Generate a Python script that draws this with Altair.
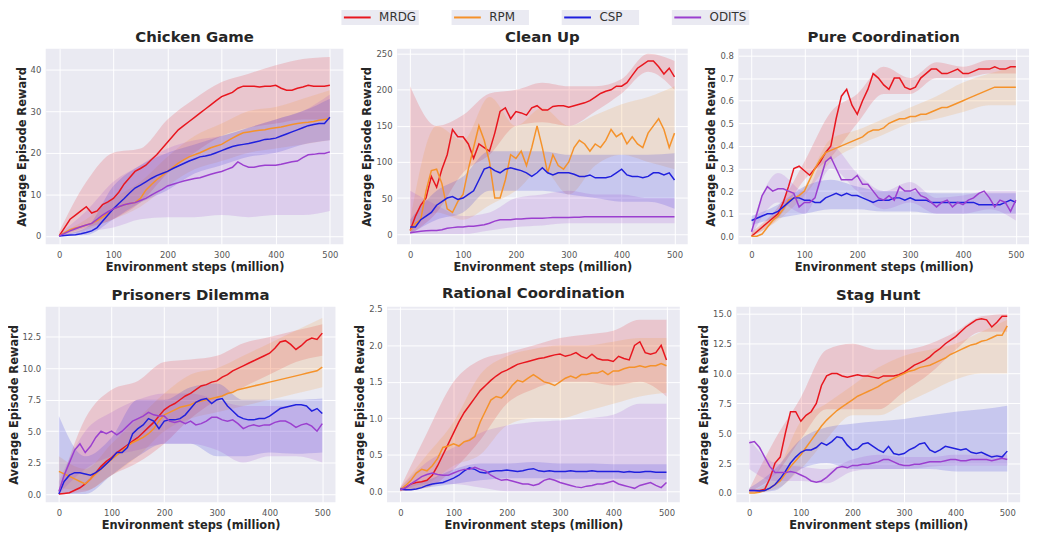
import altair as alt
import pandas as pd

METHODS = ["MRDG", "RPM", "CSP", "ODITS"]
COLORS = ["#E8161E", "#F5922A", "#2020DD", "#9B3FCF"]
X = list(range(0, 501, 10))
XB = list(range(0, 501, 50))
XTICKS = [0, 100, 200, 300, 400, 500]

# ---------------- Chicken Game ----------------
CG_MRDG = [0,2,4,5,6,7,5.5,6,7.5,8.2,9, 10.5,12.5,14,15.5,16.2,17,18.3,19.5,21,22.5,
           24,25.5,26.5,27.5,28.5,29.5,30.5,31.5,32.5,33.5, 34,34.5,35.5,36,36,36,35.8,36,36,36.2,
           35.5,35,35,35.5,35.8,36.2,36,36,36,36.2]
CG_RPM = [0,0.8,1.5,1.9,2.2,2.6,3,3.7,4.5,5.5,6.5, 7,7.5,7.8,8,9,11,12.3,13.5,14.5,15.5,
          16.5,17.5,18.3,19,19.5,20,20.6,21.2,21.6,22, 22.8,23.5,24.2,24.8,25,25.2,25.4,25.5,25.8,26,
          26.2,26.5,26.8,27,27.2,27.3,27.5,27.8,28,28.2]
CG_CSP = [0,0.1,0.2,0.3,0.5,0.8,1.2,2,3.5,5,6.5, 7.8,9,10.3,11.5,12.2,13,13.8,14.5,15,15.5,
          16.2,16.8,17.4,18,18.5,19,19.2,19.5,20,20.5, 21,21.5,21.8,22,22.2,22.5,22.8,23.2,23.3,23.5,
          24,24.5,25,25.5,26,26.5,26.8,27,27,28.5]
CG_ODITS = [0,0.6,1.2,1.7,2.2,2.6,3,4,5,5.8,6.5, 7,7.5,7.8,8,8.5,9,9.8,10.5,11.2,12,
            12.4,12.8,13.2,13.5,13.8,14,14.4,14.8,15.2,15.5, 16,16.5,17.8,17,16.5,16.5,16.8,17,17,17,
            17.2,17.5,17.8,18,18.8,19.5,19.6,19.8,19.8,20.2]
CG_MRDG_LO = [0,2,4,8,15,20,24,26,27,28,28]
CG_MRDG_HI = [1,13,20,21,28,33,37,39,41,42.5,43]
CG_RPM_LO = [0,1.5,4,7,12,16,18,20,21,22,23]
CG_RPM_HI = [0.5,4,9,13,19,24,27,30,31,33,35]
CG_CSP_LO = [0,0.2,4,8,11,15,17,19,20,22,23]
CG_CSP_HI = [0.2,2,12,17,20,22,24,26,28,30,33]
CG_ODITS_LO = [0,1,2,4,4.5,4.5,5,4.5,5,5,6]
CG_ODITS_HI = [0.5,6,13,17,21,23,24,26,28,30,34]

# ---------------- Clean Up ----------------
CU_MRDG = [5,25,40,50,80,65,90,110,145,135,135, 125,105,125,120,115,140,170,175,160,170,
           168,165,175,178,172,172,177,178,178,176, 178,180,182,185,190,195,198,200,205,205,
           210,220,230,235,240,240,232,222,230,218]
CU_RPM = [5,15,20,60,88,90,70,35,30,45,55, 90,120,150,130,100,50,50,75,110,105,
          115,95,120,150,120,85,110,95,90,100, 120,130,125,115,125,120,130,145,135,140,
          125,135,125,120,140,150,160,145,120,140]
CU_CSP = [10,10,20,25,30,40,45,50,52,48,50, 55,60,75,90,93,88,85,90,92,90,
          88,85,80,85,92,85,82,85,85,85, 83,80,80,82,78,78,78,80,85,90,
          82,80,80,78,80,85,85,82,85,75]
CU_ODITS = [2,3,4,4.5,5,5,6,8,9,10,10, 11,11,12,13,15,18,20,20,20,21,
            21,21.5,22,22,22,22.5,23,23,23,23, 23.5,23.5,24,24,24,24,24,24,24,24,
            24,24,24,24,24,24,24,24,24,24]
CU_MRDG_LO = [0,30,85,110,150,155,150,170,195,225,200]
CU_MRDG_HI = [205,150,165,195,200,210,205,205,215,250,240]
CU_RPM_LO = [0,30,20,40,60,90,55,95,110,100,90]
CU_RPM_HI = [20,150,130,190,150,175,150,165,180,190,205]
CU_CSP_LO = [0,20,30,60,60,60,55,50,45,45,35]
CU_CSP_HI = [20,60,80,115,115,115,110,110,110,110,112]
CU_ODITS_LO = [0,0,0,5,10,12,15,15,15,15,15]
CU_ODITS_HI = [60,40,25,30,50,55,60,55,55,50,50]

# ---------------- Pure Coordination ----------------
PC_MRDG = [0.0,0.02,0.04,0.06,0.08,0.1,0.15,0.22,0.3,0.31,0.29, 0.27,0.3,0.33,0.37,0.4,0.52,0.62,0.65,0.58,0.54,
           0.6,0.65,0.72,0.7,0.67,0.65,0.7,0.7,0.66,0.65, 0.66,0.7,0.72,0.74,0.74,0.72,0.72,0.73,0.74,0.72,
           0.72,0.73,0.74,0.74,0.74,0.75,0.74,0.74,0.75,0.75]
PC_RPM = [0,0,0.01,0.04,0.07,0.09,0.12,0.16,0.17,0.18,0.2, 0.25,0.3,0.34,0.37,0.38,0.39,0.4,0.41,0.42,0.43,
          0.44,0.46,0.47,0.47,0.48,0.5,0.51,0.52,0.52,0.53, 0.53,0.54,0.54,0.55,0.56,0.57,0.57,0.58,0.59,0.6,
          0.61,0.62,0.63,0.64,0.65,0.66,0.66,0.66,0.66,0.66]
PC_CSP = [0.07,0.08,0.09,0.1,0.1,0.11,0.13,0.15,0.17,0.17,0.16, 0.16,0.15,0.15,0.17,0.18,0.19,0.18,0.19,0.18,0.18,
          0.17,0.16,0.15,0.16,0.16,0.16,0.17,0.17,0.16,0.17, 0.16,0.16,0.16,0.15,0.15,0.15,0.15,0.15,0.15,0.15,
          0.15,0.15,0.14,0.14,0.14,0.14,0.14,0.15,0.16,0.15]
PC_ODITS = [0.02,0.1,0.18,0.22,0.2,0.21,0.21,0.2,0.19,0.13,0.15, 0.15,0.17,0.25,0.33,0.35,0.3,0.25,0.25,0.25,0.27,
            0.23,0.23,0.2,0.17,0.16,0.18,0.16,0.22,0.2,0.2, 0.21,0.18,0.17,0.15,0.13,0.15,0.16,0.13,0.15,0.14,
            0.16,0.17,0.19,0.2,0.17,0.13,0.16,0.15,0.11,0.16]
PC_MRDG_LO = [0,0.08,0.25,0.35,0.5,0.63,0.63,0.7,0.7,0.72,0.72]
PC_MRDG_HI = [0.02,0.13,0.33,0.55,0.63,0.75,0.7,0.77,0.75,0.78,0.78]
PC_RPM_LO = [0,0.07,0.18,0.33,0.4,0.45,0.5,0.52,0.55,0.58,0.58]
PC_RPM_HI = [0.01,0.11,0.22,0.43,0.47,0.52,0.57,0.62,0.68,0.72,0.75]
PC_CSP_LO = [0.05,0.08,0.1,0.12,0.12,0.11,0.11,0.1,0.1,0.1,0.1]
PC_CSP_HI = [0.09,0.14,0.22,0.25,0.22,0.2,0.2,0.19,0.19,0.19,0.19]
PC_ODITS_LO = [0,0.15,0.1,0.3,0.2,0.12,0.15,0.1,0.1,0.12,0.07]
PC_ODITS_HI = [0.05,0.28,0.2,0.4,0.28,0.2,0.24,0.17,0.18,0.2,0.2]

# ---------------- Prisoners Dilemma ----------------
PD_MRDG = [0,0.05,0.1,0.3,0.5,0.8,1.2,1.7,2.2,2.6,2.9, 3.3,3.6,3.9,4.2,4.5,4.9,5.3,5.7,6.2,6.7,
           7.0,7.2,7.5,7.8,8.0,8.3,8.6,8.7,8.9,9.0, 9.3,9.5,9.8,10.0,10.2,10.4,10.6,10.8,11.0,11.2,
           11.6,12.1,12.2,11.9,11.5,11.8,12.2,12.4,12.3,12.8]
PD_RPM = [1.8,1.6,1.4,1.2,1.0,0.8,1.2,1.6,2.0,2.4,2.75, 3.1,3.4,3.8,4.1,4.3,4.5,4.8,5.2,5.8,6.3,
          6.5,6.7,6.9,7.0,7.1,7.3,7.4,7.5,7.6,7.7, 7.8,8.0,8.1,8.3,8.4,8.5,8.6,8.7,8.8,8.9,
          9.0,9.1,9.2,9.3,9.4,9.5,9.6,9.7,9.8,10.1]
PD_CSP = [0,1.0,1.5,1.7,1.7,1.6,1.5,1.7,2.0,2.4,2.8, 3.3,3.3,3.7,4.8,5.2,5.5,6.0,5.8,5.2,5.8,
          5.9,5.9,6.0,6.3,6.8,7.3,7.5,7.6,7.2,7.5, 7.6,7.0,6.6,6.2,6.0,5.9,5.9,6.0,6.0,6.2,
          6.5,6.8,6.9,7.0,7.1,7.1,7.0,6.6,6.8,6.4]
PD_ODITS = [0.2,1.5,2.5,3.5,4.0,3.3,3.8,4.5,5.0,4.8,5.0, 4.7,5.0,5.4,5.8,6.0,6.2,6.5,6.3,6.2,6.2,
            5.8,5.7,5.8,5.6,5.8,5.5,5.6,5.8,6.1,6.1, 5.9,5.8,5.9,5.6,5.2,5.4,5.5,5.4,5.5,5.5,
            5.7,5.8,5.8,5.6,5.3,5.5,5.6,5.4,5.0,5.6]
PD_MRDG_LO = [0,0.2,1.5,2.5,4,6,7.5,8.5,9.5,10.5,11]
PD_MRDG_HI = [0.3,6,8.3,9,10.5,10.7,11,12,12.5,13,13.5]
PD_RPM_LO = [0.5,0.3,1.5,3,5,6,6.5,7,7.5,8,8.5]
PD_RPM_HI = [3,2,4,6,8,9.5,10,11,12,13,14]
PD_CSP_LO = [0,0,1.5,3,4,4,3,3,3.3,3.2,3.3]
PD_CSP_HI = [6.2,3,4.5,7.5,7.5,8.5,8.8,7.5,7.5,7.5,7.6]
PD_ODITS_LO = [0,2,3,3.5,4,4,3.5,2.5,3,3,2.5]
PD_ODITS_HI = [1,5,6.5,7.5,8,8,7.5,7,7,7,6.5]

# ---------------- Rational Coordination ----------------
RC_MRDG = [0.02,0.05,0.1,0.12,0.13,0.15,0.22,0.35,0.5,0.65,0.8, 0.95,1.08,1.18,1.28,1.38,1.45,1.52,1.58,1.63,1.66,
           1.7,1.74,1.76,1.78,1.8,1.82,1.83,1.85,1.87,1.88, 1.85,1.87,1.9,1.85,1.82,1.88,1.82,1.8,1.8,1.78,
           1.85,1.82,1.8,2.0,2.05,1.9,1.88,1.9,2.0,1.8]
RC_RPM = [0.02,0.08,0.15,0.25,0.3,0.28,0.35,0.45,0.6,0.62,0.65, 0.62,0.68,0.7,0.75,0.95,1.1,1.25,1.3,1.28,1.35,
          1.45,1.52,1.5,1.55,1.6,1.55,1.5,1.48,1.45,1.5, 1.55,1.58,1.55,1.6,1.6,1.62,1.62,1.65,1.6,1.65,
          1.65,1.68,1.7,1.7,1.72,1.7,1.72,1.72,1.75,1.72]
RC_CSP = [0.03,0.02,0.02,0.03,0.05,0.08,0.1,0.11,0.12,0.15,0.18, 0.22,0.28,0.32,0.3,0.26,0.25,0.27,0.28,0.28,0.29,
          0.28,0.27,0.28,0.3,0.31,0.28,0.27,0.28,0.27,0.27, 0.27,0.28,0.27,0.27,0.27,0.28,0.27,0.27,0.27,0.27,
          0.27,0.26,0.27,0.26,0.26,0.27,0.27,0.26,0.26,0.26]
RC_ODITS = [0.02,0.05,0.1,0.15,0.2,0.23,0.25,0.23,0.22,0.22,0.25, 0.28,0.3,0.3,0.33,0.3,0.28,0.22,0.18,0.15,0.16,
            0.14,0.12,0.1,0.1,0.08,0.1,0.15,0.17,0.15,0.12, 0.1,0.08,0.06,0.05,0.07,0.08,0.1,0.1,0.12,0.14,
            0.1,0.08,0.06,0.04,0.08,0.1,0.12,0.08,0.05,0.12]
RC_MRDG_LO = [0,0.05,0.3,0.7,1.2,1.4,1.5,1.5,1.45,1.5,1.3]
RC_MRDG_HI = [0.05,0.8,1.5,1.8,1.9,2.0,2.1,2.15,2.2,2.35,2.35]
RC_RPM_LO = [0,0.1,0.35,0.5,0.9,1.0,1.0,1.1,1.2,1.3,1.35]
RC_RPM_HI = [0.05,0.5,0.95,1.6,1.85,1.95,2.0,2.0,2.05,2.1,2.1]
RC_CSP_LO = [0,0.05,0.1,0.15,0.18,0.18,0.17,0.17,0.17,0.17,0.16]
RC_CSP_HI = [0.05,0.15,0.3,0.38,0.38,0.4,0.38,0.38,0.37,0.37,0.37]
RC_ODITS_LO = [0,0.1,0.1,0.05,0,0,0,0,0,0,0]
RC_ODITS_HI = [0.05,0.4,0.6,0.8,0.9,0.95,0.97,1.0,1.05,1.2,1.2]

# ---------------- Stag Hunt ----------------
SH_MRDG = [0.2,0.2,0.2,0.3,1.2,2.5,3.0,5.0,6.8,6.8,6.0, 6.5,6.8,7.5,9.0,9.8,10.0,10.0,9.8,9.7,9.8,
           9.9,9.8,9.8,9.7,9.6,9.8,9.8,9.8,9.9,10.1, 10.4,10.7,10.9,11.1,11.4,11.8,12.1,12.5,12.8,13.1,
           13.5,13.9,14.2,14.5,14.6,14.5,13.9,14.3,14.8,14.8]
SH_RPM = [0,0,0.05,0.2,0.4,0.7,1.0,1.6,2.2,2.7,3.2, 3.8,4.4,5.0,5.6,6.1,6.5,6.9,7.2,7.5,7.8,
          8.1,8.3,8.5,8.7,8.9,9.2,9.4,9.6,9.8,10.0, 10.2,10.3,10.5,10.6,10.7,10.9,11.1,11.3,11.6,11.8,
          12.0,12.2,12.4,12.5,12.7,12.8,13.0,13.2,13.2,14.0]
SH_CSP = [0.2,0.2,0.15,0.2,0.4,0.7,1.2,1.8,2.5,3.0,3.4, 3.6,3.6,3.8,4.2,4.0,4.3,4.7,4.6,4.0,3.6,
          3.7,4.1,4.2,3.9,3.6,3.4,3.9,3.3,3.2,3.3, 3.6,3.8,4.1,4.2,3.6,3.4,3.6,3.9,3.8,3.7,
          3.6,3.7,3.4,3.3,3.4,3.2,3.0,3.1,3.0,3.5]
SH_ODITS = [4.2,4.3,3.8,3.0,2.2,1.7,1.7,1.7,1.8,1.7,1.5, 1.3,1.0,0.9,1.0,1.3,1.7,2.1,2.2,2.1,2.3,
            2.3,2.4,2.4,2.5,2.6,2.8,2.8,2.6,2.4,2.3, 2.3,2.4,2.4,2.5,2.6,2.6,2.6,2.7,2.8,2.8,
            2.7,2.7,2.8,2.8,2.8,2.8,2.7,2.8,2.9,2.8]
SH_MRDG_LO = [0.1,1.5,4.5,7,7,7,8.5,10,12,13.5,13.5]
SH_MRDG_HI = [0.3,4.5,8,12,12.5,12,12,12.5,13.5,14.8,15]
SH_RPM_LO = [0,0.3,2,4.5,6.5,6.5,7.5,8.5,9.5,10,10]
SH_RPM_HI = [0.1,1.5,6,7.5,9,10.5,11.5,12,12.5,13.5,14.5]
SH_CSP_LO = [0,0.2,2,2.5,2,2,2,2,1.8,1.8,1.8]
SH_CSP_HI = [0.4,2,4.5,5.5,5.8,6,6.2,6.5,6.8,7,7.3]
SH_ODITS_LO = [2,1,1,0.8,1.8,2,2,2.2,2.3,2.3,2.3]
SH_ODITS_HI = [4.5,2.5,2.2,2,2.8,3.2,3,3,3.2,3.2,3.2]

PANELS = [
    ("Chicken Game", "CG", [-2, 45], [0, 10, 20, 30, 40], "d"),
    ("Clean Up", "CU", [-14, 257], [0, 50, 100, 150, 200, 250], "d"),
    ("Pure Coordination", "PC", [-0.035, 0.83], [0, 0.1, 0.2, 0.3, 0.4, 0.5, 0.6, 0.7, 0.8], ".1f"),
    ("Prisoners Dilemma", "PD", [-0.65, 14.9], [0, 2.5, 5, 7.5, 10, 12.5], ".1f"),
    ("Rational Coordination", "RC", [-0.15, 2.53], [0, 0.5, 1.0, 1.5, 2.0, 2.5], ".1f"),
    ("Stag Hunt", "SH", [-0.78, 15.6], [0, 2.5, 5, 7.5, 10, 12.5, 15], ".1f"),
]

g = globals()
line_rows, band_rows = [], []
for title, key, _, _, _ in PANELS:
    for m in METHODS:
        for xv, yv in zip(X, g[f"{key}_{m}"]):
            line_rows.append({"panel": title, "method": m, "x": xv, "y": yv})
        for xv, lo, hi in zip(XB, g[f"{key}_{m}_LO"], g[f"{key}_{m}_HI"]):
            band_rows.append({"panel": title, "method": m, "x": xv, "lo": lo, "hi": hi})
lines_df = pd.DataFrame(line_rows)
bands_df = pd.DataFrame(band_rows)
legend_df = pd.DataFrame({"method": METHODS})

FONT = "DejaVu Sans"
color_scale = alt.Scale(domain=METHODS, range=COLORS)

WIDTHS = [300, 293, 293, 292, 295, 286]
H = 197


def panel(i):
    title, key, dom, ticks, fmt = PANELS[i]
    xenc = alt.X("x:Q", scale=alt.Scale(domain=[-25, 525], nice=False, zero=False),
                 axis=alt.Axis(values=XTICKS, format="d", title="Environment steps (million)"))
    yscale = alt.Scale(domain=dom, nice=False, zero=False)
    yaxis = alt.Axis(values=ticks, format=fmt, title="Average Episode Reward")
    band = alt.Chart(bands_df).transform_filter(alt.datum.panel == title).mark_area(
        opacity=0.17, interpolate="monotone").encode(
        x=xenc,
        y=alt.Y("lo:Q", scale=yscale, axis=yaxis),
        y2="hi:Q",
        fill=alt.Fill("method:N", scale=color_scale, legend=None),
    )
    line = alt.Chart(lines_df).transform_filter(alt.datum.panel == title).mark_line(
        strokeWidth=1.5).encode(
        x=xenc,
        y=alt.Y("y:Q", scale=yscale, axis=yaxis),
        color=alt.Color("method:N", scale=color_scale, legend=None),
    )
    return alt.layer(band, line).properties(width=WIDTHS[i], height=H, title=title)


# legend drawn as its own small strip (entries placed by a point scale)
lx = alt.X("method:N", scale=alt.Scale(type="point", domain=METHODS, range=[337, 670], padding=0),
           axis=None)
leg_box = alt.Chart(legend_df).mark_rect(width=78, height=15, color="#EAEAF2").encode(
    x=lx, y=alt.value(7.5))
leg_sym = alt.Chart(legend_df).mark_point(shape="stroke", size=729, strokeWidth=2, opacity=1,
                                          filled=False, xOffset=-23).encode(
    x=lx, y=alt.value(7.5), color=alt.Color("method:N", scale=color_scale, legend=None))
leg_txt = alt.Chart(legend_df).mark_text(align="left", baseline="middle", dx=-1, fontSize=12,
                                         font=FONT, color="#333333").encode(
    x=lx, y=alt.value(7.5), text="method:N")
legend_strip = alt.layer(leg_box, leg_sym, leg_txt).properties(
    width=1000, height=15, view=alt.ViewBackground(fill="white", stroke=None))

row1 = alt.hconcat(panel(0), panel(1), panel(2), spacing=18)
row2 = alt.hconcat(panel(3), panel(4), panel(5), spacing=19)
grid = alt.vconcat(row1, row2, spacing=13)
chart = alt.vconcat(legend_strip, grid, spacing=5).properties(
    padding={"left": 0, "top": 0, "right": 0, "bottom": 0}
).configure_view(fill="#EAEAF2", stroke=None).configure_axis(
    grid=True, gridColor="white", gridWidth=1, domain=False, ticks=False,
    labelFont=FONT, labelFontSize=8.5, labelColor="#555555", labelPadding=5,
    titleFont=FONT, titleFontSize=11.5, titleFontWeight="bold", titleColor="#262626",
).configure_axisY(titlePadding=3).configure_axisX(titlePadding=3, labelPadding=6).configure_title(
    font=FONT, fontSize=15, fontWeight="bold", color="#262626", offset=4
)

chart.save("out.html", embed_options={"renderer": "svg", "actions": False})
